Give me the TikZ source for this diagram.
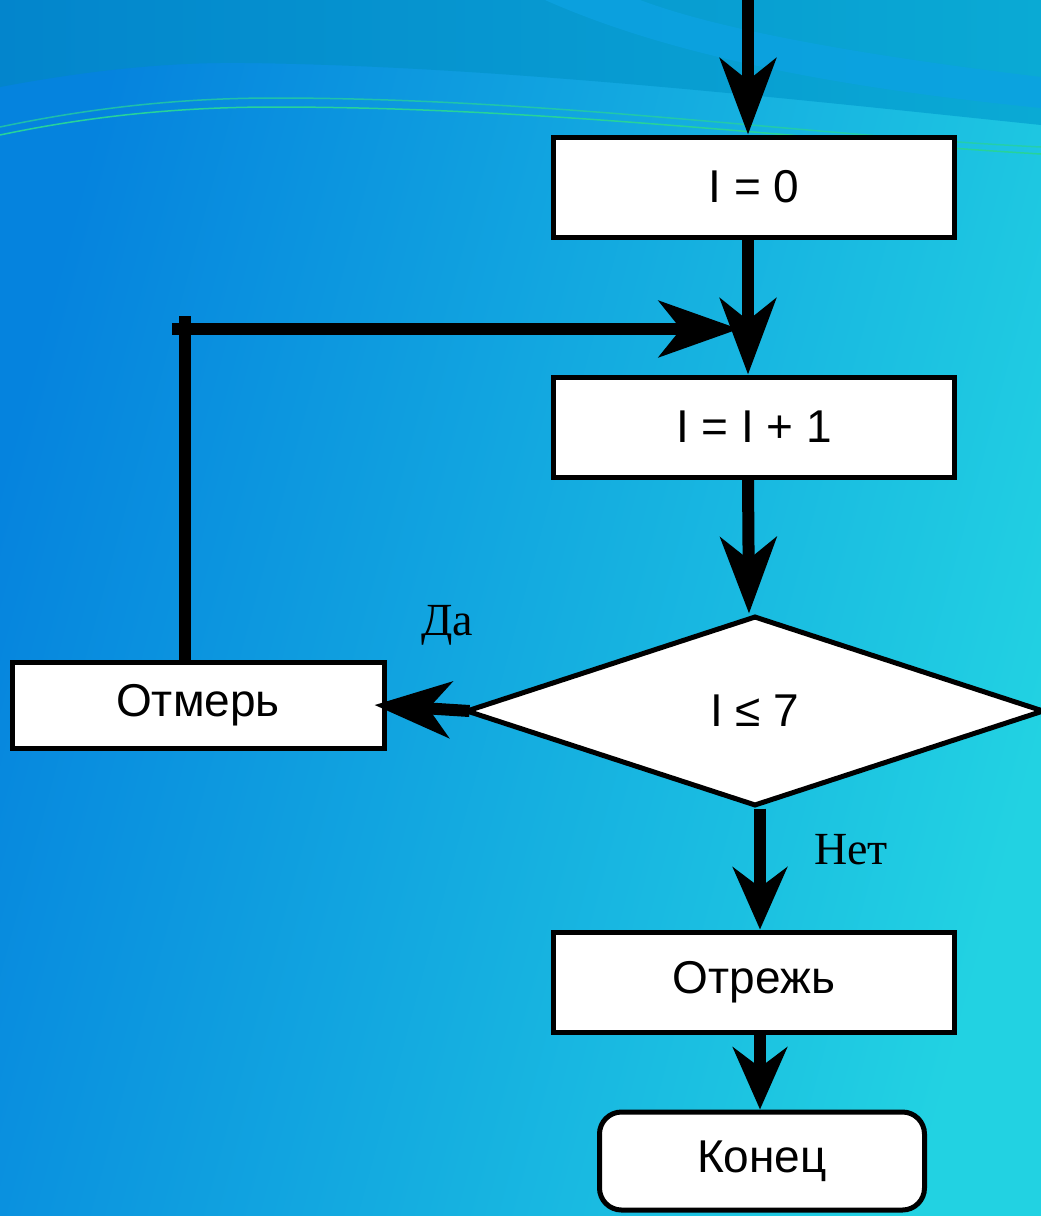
\documentclass[tikz,border=0pt]{standalone}
\usepackage{fontspec}
\setmainfont{Liberation Sans}
\newfontfamily\labelfont{Liberation Serif}
\usepackage{xcolor}
\usetikzlibrary{shapes.geometric, arrows.meta, positioning}

\definecolor{bgleft}{HTML}{0583DE}
\definecolor{bgright}{HTML}{22D2E2}
\definecolor{topleft}{HTML}{0385CC}
\definecolor{topright}{HTML}{0AAAD4}
\definecolor{bgband}{HTML}{0CA2E2}
\definecolor{waveline}{HTML}{27D39A}

\tikzset{
  flow/.style={line width=12pt, -{Stealth[length=76pt, width=56pt, inset=22pt]}},
  shortflow/.style={line width=12pt, -{Stealth[length=62pt, width=54pt, inset=20pt]}},
  loopline/.style={line width=12pt},
  block/.style={draw, line width=5pt, fill=white, minimum width=401pt,
    minimum height=100pt, inner sep=0pt, font=\fontsize{46}{52}\selectfont},
  decision/.style={diamond, draw, line width=5pt, fill=white, aspect=3,
    minimum width=578pt, minimum height=190pt, inner sep=0pt,
    font=\fontsize{46}{52}\selectfont},
  terminal/.style={block, rounded corners=22pt, minimum width=325pt, minimum height=98pt},
  answer/.style={font=\labelfont\fontsize{46}{52}\selectfont, inner sep=0pt}
}

\begin{document}
\begin{tikzpicture}[x=1pt, y=-1pt]
  \useasboundingbox (0,0) rectangle (1041,1216);
  % background
  \shade[left color=bgleft, right color=bgright, shading angle=75] (0,0) rectangle (1041,1216);
  \shade[left color=topleft, right color=topright] (0,0) -- (0,87)
    .. controls (90,70) and (170,62) .. (245,63)
    .. controls (500,66) and (800,100) .. (1041,125) -- (1041,0) -- cycle;
  \fill[bgband, opacity=0.8] (545,0) .. controls (680,60) and (860,90) .. (1041,108)
    -- (1041,77) .. controls (860,55) and (720,30) .. (640,0) -- cycle;
  \draw[waveline, line width=1.5pt, opacity=0.75] (0,127) .. controls (90,108) and (180,98) .. (274,98)
    .. controls (550,98) and (800,135) .. (1041,147);
  \draw[waveline, line width=1.5pt] (0,135) .. controls (90,116) and (180,107) .. (274,107)
    .. controls (550,107) and (800,140) .. (1041,154);

  % nodes
  \coordinate (entry) at (748,0);
  \node[block] (start) at (754,187) {I = 0};
  \node[block] (incr) at (754,427) {I = I + 1};
  \node[decision] (check) at (755,711) {I ≤ 7};
  \node[block, minimum width=372pt, minimum height=86pt] (mark) at (198,705) {Отмерь};
  \node[block] (cut) at (754,982) {Отрежь};
  \node[terminal] (finish) at (762,1161) {Конец};
  \node[answer] (yes) at (447,625) {Да};
  \node[answer] (no) at (851,850) {Нет};
  \coordinate (corner) at (185,316);
  \coordinate (loopstart) at (172,329);
  \coordinate (merge) at (739,329);

  % connectors
  \draw[flow] (entry) -- (entry |- start.north);
  \draw[flow] ([xshift=-6pt]start.south) -- ([xshift=-6pt]incr.north);
  \draw[flow] ([xshift=-6pt]incr.south) -- ([xshift=-6pt]check.north);
  \draw[flow] ([xshift=6pt]check.west) -- ([xshift=-12pt]mark.east);
  \draw[loopline] (mark.north -| corner) -- (corner);
  \draw[flow, -{Stealth[length=80pt, width=56pt, inset=22pt]}] (loopstart) -- (merge);
  \draw[shortflow] ([xshift=5pt]check.south) -- ([xshift=6pt]cut.north);
  \draw[shortflow] ([xshift=6pt]cut.south) -- ([xshift=-2pt]finish.north);
\end{tikzpicture}
\end{document}
